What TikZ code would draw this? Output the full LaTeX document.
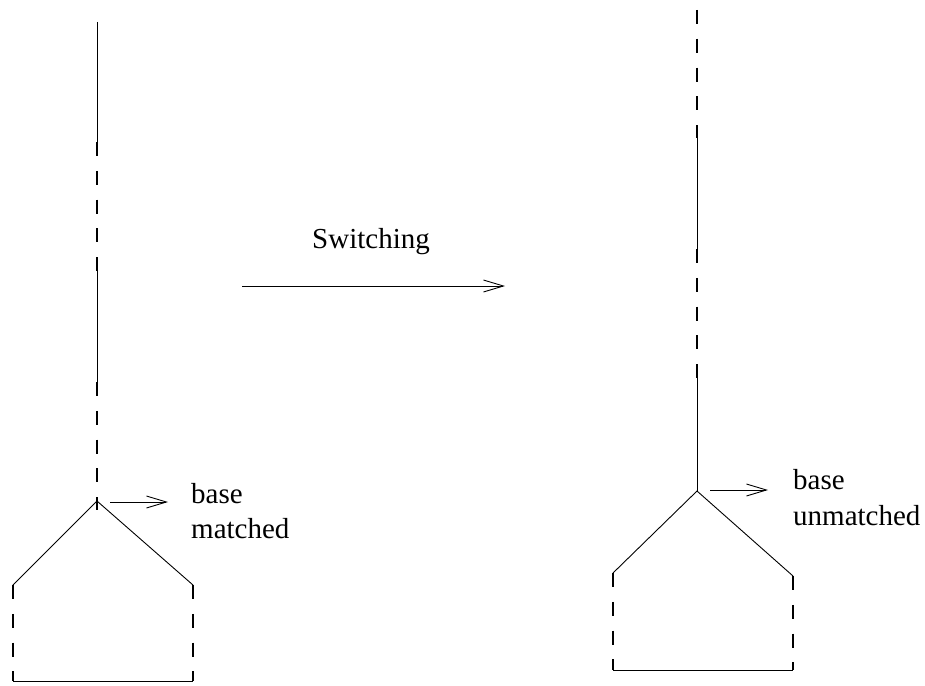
\documentclass[tikz,border=0pt]{standalone}
\usepackage{fontspec}
\setmainfont{Liberation Serif}
\usetikzlibrary{arrows.meta}
\tikzset{
  solidline/.style={line width=0.9pt, black},
  dashline/.style={line width=1.7pt, black, dash pattern=on 14pt off 14.75pt},
  arrowline/.style={line width=0.9pt, black, -{Straight Barb[length=20pt,width=12pt,line width=0.9pt]}},
  lbl/.style={inner sep=0pt, font=\fontsize{29}{35}\selectfont}
}
\begin{document}
\begin{tikzpicture}[x=1pt,y=-1pt]
\useasboundingbox (0,0) rectangle (925,685);
% left structure
\coordinate (Ltop) at (97,22);
\coordinate (La) at (97,142);
\coordinate (Lb) at (97,271);
\coordinate (Lc) at (97,382);
\coordinate (Lapex) at (97,501);
\coordinate (Lend) at (97,510);
\coordinate (Lleft) at (13,585);
\coordinate (Lright) at (193,585);
\coordinate (Lbl) at (13,681);
\coordinate (Lbr) at (193,681);
\draw[solidline] (Ltop) -- (La);
\draw[dashline] (La) -- (Lb);
\draw[solidline] (Lb) -- (Lc);
\draw[dashline] (Lc) -- (Lend);
\draw[solidline] (Lleft) -- (Lapex) -- (Lright);
\draw[dashline] (Lleft) -- (Lbl);
\draw[dashline] (Lright) -- (Lbr);
\draw[solidline] (Lbl) -- (Lbr);
% left label
\coordinate (LarS) at (110,502);
\coordinate (LarE) at (168,502);
\draw[arrowline] (LarS) -- (LarE);
\node[lbl, anchor=base west] (Lbase) at (191,503) {base};
\node[lbl, anchor=base west] (Lmatch) at (191,538) {matched};
% switching
\node[lbl, anchor=base] (sw) at (371,248) {Switching};
\coordinate (SwS) at (242,286);
\coordinate (SwE) at (505,286);
\draw[arrowline] (SwS) -- (SwE);
% right structure
\coordinate (Rtop) at (697,10);
\coordinate (Ra) at (697,138);
\coordinate (Rb) at (697,249);
\coordinate (Rc) at (697,378);
\coordinate (Rapex) at (697,491);
\coordinate (Rleft) at (613,573);
\coordinate (Rright) at (793,576);
\coordinate (Rbl) at (613,670);
\coordinate (Rbr) at (793,670);
\draw[dashline] (Rtop) -- (Ra);
\draw[solidline] (Ra) -- (Rb);
\draw[dashline] (Rb) -- (Rc);
\draw[solidline] (Rc) -- (Rapex);
\draw[solidline] (Rleft) -- (Rapex) -- (Rright);
\draw[dashline] (Rleft) -- (Rbl);
\draw[dashline] (Rright) -- (Rbr);
\draw[solidline] (Rbl) -- (Rbr);
% right label
\coordinate (RarS) at (710,490);
\coordinate (RarE) at (768,490);
\draw[arrowline] (RarS) -- (RarE);
\node[lbl, anchor=base west] (Rbase) at (793,489) {base};
\node[lbl, anchor=base west] (Runmatch) at (793,525) {unmatched};
\end{tikzpicture}
\end{document}
